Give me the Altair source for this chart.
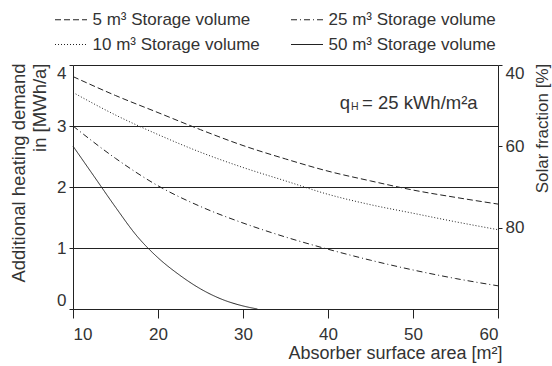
import altair as alt
import pandas as pd

# ---- data ----
area = [10, 15, 20, 25, 30, 35, 40, 45, 50, 55, 60]
demand_5 = [3.81, 3.50, 3.22, 2.94, 2.68, 2.46, 2.26, 2.10, 1.95, 1.83, 1.72]
demand_10 = [3.55, 3.18, 2.86, 2.57, 2.32, 2.10, 1.88, 1.71, 1.57, 1.43, 1.30]
demand_25 = [3.00, 2.47, 2.02, 1.68, 1.41, 1.18, 0.98, 0.80, 0.64, 0.50, 0.38]
area_50 = [10, 12.5, 15, 17.5, 20, 22.5, 25, 27.5, 30, 31.7]
demand_50 = [2.67, 2.17, 1.67, 1.20, 0.84, 0.56, 0.33, 0.16, 0.05, 0.0]

series_labels = [
    "\u20075 m³ Storage volume",
    "10 m³ Storage volume",
    "25 m³ Storage volume",
    "50 m³ Storage volume",
]
dash_styles = [[6, 3], [1, 2], [6, 3, 1, 3], [1, 0]]
series_x = [area, area, area, area_50]
series_y = [demand_5, demand_10, demand_25, demand_50]

x_ticks = [10, 20, 30, 40, 50, 60]
y_ticks = [0, 1, 2, 3, 4]
solar_ticks = [40, 60, 80]

ann_x = [44.0]
ann_y = [3.38]

FONT = "Liberation Sans"
INK = "#222222"
TXT = "#333333"

rows = []
for xs, ys, lab in zip(series_x, series_y, series_labels):
    for a, d in zip(xs, ys):
        rows.append({"area": a, "demand": d, "series": lab})
df = pd.DataFrame(rows)

x_enc = alt.X(
    "area:Q",
    scale=alt.Scale(domain=[10, 60], nice=False, zero=False),
    axis=alt.Axis(
        values=x_ticks,
        format="d",
        title="Absorber surface area [m²]",
        titleFontSize=18,
        titleAnchor="end",
        titleAlign="right",
        titleBaseline="middle",
        titleX=429,
        titleY=44,
        tickSize=9,
        labelPadding=8,
        labelFlush=True,
        grid=False,
    ),
)
y_enc = alt.Y(
    "demand:Q",
    scale=alt.Scale(domain=[0, 4], nice=False),
    axis=alt.Axis(
        values=y_ticks,
        format="d",
        title=["Additional heating demand", "in [MWh/a]"],
        titleFontSize=18.5,
        titleAngle=270,
        titleAlign="right",
        titleBaseline="top",
        titleX=-64,
        titleY=-2,
        titleLineHeight=21,
        tickSize=4,
        labelPadding=3,
        labelFlush=True,
        grid=True,
    ),
)

lines = alt.Chart(df).mark_line(strokeWidth=1, color=INK, interpolate="monotone").encode(
    x=x_enc,
    y=y_enc,
    strokeDash=alt.StrokeDash(
        "series:N",
        scale=alt.Scale(domain=series_labels, range=dash_styles),
        legend=alt.Legend(
            title=None,
            orient="none",
            legendX=-18.5,
            legendY=-62,
            columns=2,
            symbolType="stroke",
            symbolSize=1024,
            symbolStrokeWidth=1,
            symbolStrokeColor=INK,
            labelFont=FONT,
            labelFontSize=17,
            labelColor=TXT,
            labelOffset=5,
            labelLimit=400,
            columnPadding=28,
            rowPadding=0,
        ),
    ),
    detail="series:N",
)

ann_df = pd.DataFrame({"area": ann_x, "demand": ann_y})
ann_base = alt.Chart(ann_df).encode(x="area:Q", y="demand:Q")
t_q = ann_base.mark_text(text="q", align="right", baseline="middle", dx=-12, font=FONT, fontSize=18.5, color=TXT)
t_h = ann_base.mark_text(text="H", align="left", baseline="middle", dx=-11, dy=4, font=FONT, fontSize=10.5, color=TXT)
t_rest = ann_base.mark_text(text="= 25 kWh/m²a", align="left", baseline="middle", dx=0, font=FONT, fontSize=18.5, color=TXT)

left_part = alt.layer(lines, t_q, t_h, t_rest)

right_axis = alt.Chart(pd.DataFrame({"sf": solar_ticks})).mark_point(opacity=0).encode(
    y=alt.Y(
        "sf:Q",
        scale=alt.Scale(domain=[40, 100], reverse=True, nice=False, zero=False),
        axis=alt.Axis(
            orient="right",
            values=solar_ticks,
            format="d",
            title="Solar fraction [%]",
            titleAngle=270,
            titleAlign="center",
            titleBaseline="middle",
            titleX=44,
            titleY=63,
            tickSize=4,
            labelPadding=3,
            labelFlush=True,
            grid=False,
        ),
    )
)

chart = (
    alt.layer(left_part, right_axis)
    .resolve_scale(y="independent")
    .properties(
        width=425,
        height=244,
        autosize=alt.AutoSizeParams(type="none"),
        padding={"left": 73, "top": 65, "right": 54, "bottom": 57},
        background="white",
    )
    .configure_axis(
        labelFont=FONT,
        titleFont=FONT,
        labelFontSize=17,
        titleFontSize=17,
        titleFontWeight="normal",
        labelColor=TXT,
        titleColor=TXT,
        domainColor=INK,
        tickColor=INK,
        gridColor=INK,
        gridOpacity=1,
        domainWidth=1,
        tickWidth=1,
        gridWidth=1,
    )
    .configure_view(stroke=None)
)

chart.save("out.html", embed_options={"renderer": "svg", "actions": False})
